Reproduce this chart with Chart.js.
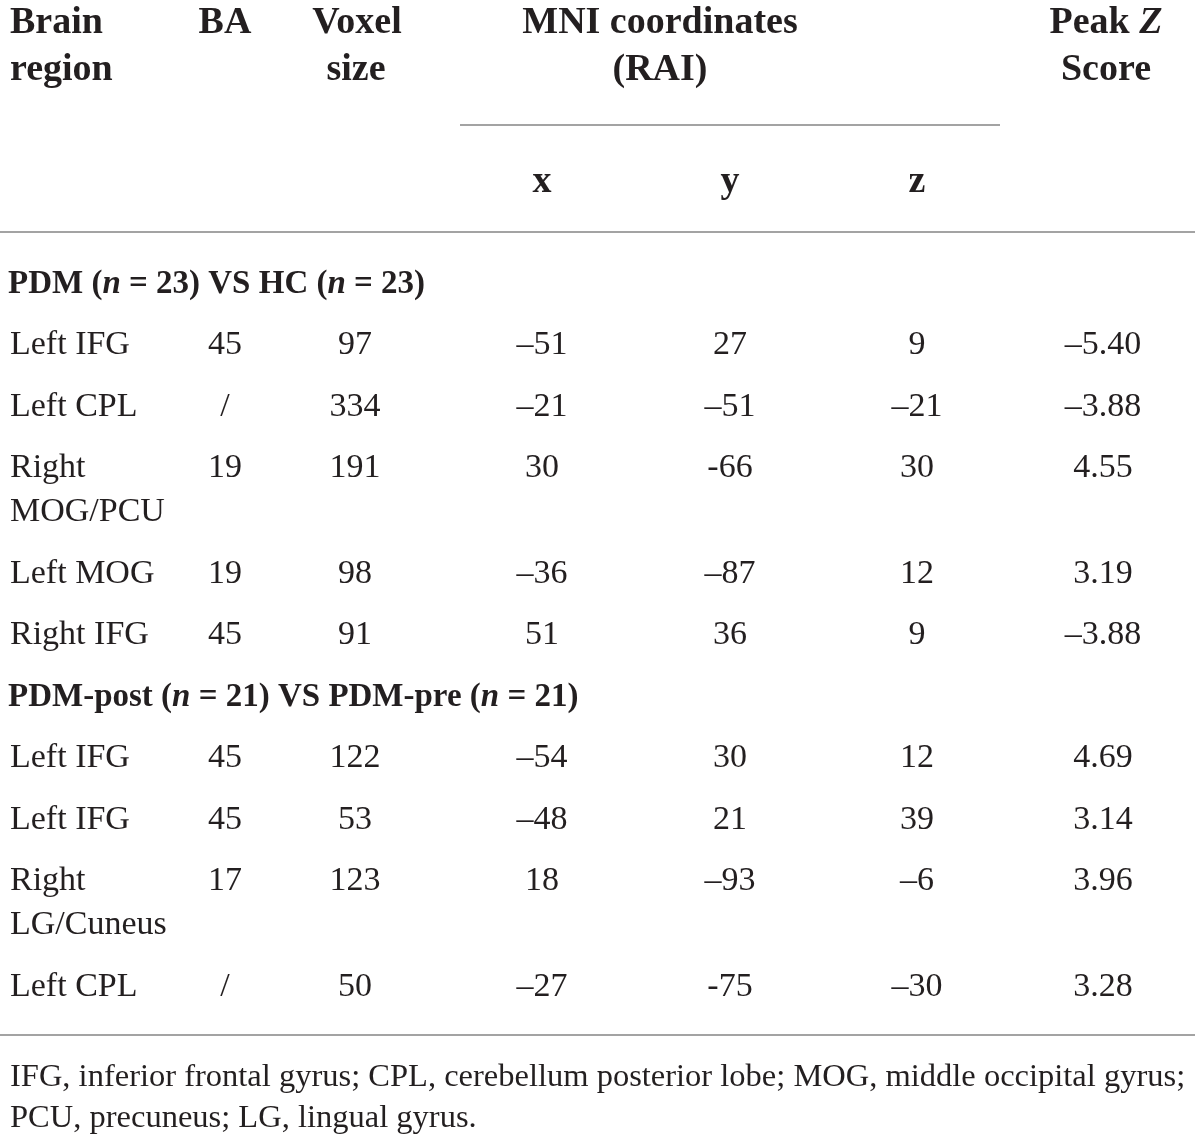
<!DOCTYPE html>
<html>
<head>
<meta charset="utf-8">
<script src="https://cdn.jsdelivr.net/npm/chart.js@4.4.1/dist/chart.umd.min.js"></script>
<style>
  html, body { margin: 0; padding: 0; background: #fff; }
  #wrap { width: 1200px; height: 1142px; }
</style>
</head>
<body>
<div id="wrap"><canvas id="brain-table"></canvas></div>
<script>
// Table content
let groups = ["PDM (n = 23) VS HC (n = 23)", "PDM-post (n = 21) VS PDM-pre (n = 21)"];
let rowGroup = [0, 0, 0, 0, 0, 1, 1, 1, 1];
let regions = [["Left IFG"], ["Left CPL"], ["Right", "MOG/PCU"], ["Left MOG"], ["Right IFG"],
               ["Left IFG"], ["Left IFG"], ["Right", "LG/Cuneus"], ["Left CPL"]];
let ba = ["45", "/", "19", "19", "45", "45", "45", "17", "/"];
let voxels = ["97", "334", "191", "98", "91", "122", "53", "123", "50"];
let mniX = ["–51", "–21", "30", "–36", "51", "–54", "–48", "18", "–27"];
let mniY = ["27", "–51", "-66", "–87", "36", "30", "21", "–93", "-75"];
let mniZ = ["9", "–21", "30", "12", "9", "12", "39", "–6", "–30"];
let peakZ = ["–5.40", "–3.88", "4.55", "3.19", "–3.88", "4.69", "3.14", "3.96", "3.28"];
let footnote = ["IFG, inferior frontal gyrus; CPL, cerebellum posterior lobe; MOG, middle occipital gyrus;",
                "PCU, precuneus; LG, lingual gyrus."];

// Layout
let ink = "#231f20";
let ruleColor = "#a3a3a3";
let bodyFont = "34px 'Liberation Serif', serif";
let headFont = "bold 38px 'Liberation Serif', serif";
let headItalic = "italic bold 38px 'Liberation Serif', serif";
let boldFont = "bold 33px 'Liberation Serif', serif";
let boldItalic = "italic bold 33px 'Liberation Serif', serif";
let colX = [10, 225, 355, 542, 730, 917, 1103];
let pitch = 61.5, wrapGap = 44;

// row positions, built from the line count of each row
let groupY = [];
let rowY = [];
let y = 284;
regions.forEach((r, i) => {
  if (i === 0 || rowGroup[i] !== rowGroup[i - 1]) {
    if (i > 0) y += pitch;
    groupY.push(y);
  }
  y += pitch;
  rowY.push(y);
  y += (r.length - 1) * wrapGap;
});

let columns = [regions, ba, voxels, mniX, mniY, mniZ, peakZ];
let datasets = columns.map((col, c) => ({
  label: "col" + c,
  data: col.map((v, i) => ({ x: colX[c], y: rowY[i], text: v })),
  pointRadius: 0
}));

// splits a group title so a lone "n" (as in "n = 23") is italic
function richParts(text) {
  return text.split(/(?<=\()(n)(?= =)/).map(p => ({ t: p, f: p === "n" ? boldItalic : boldFont }));
}
function drawParts(ctx, parts, x, y, align) {
  let w = 0;
  parts.forEach(p => { ctx.font = p.f; w += ctx.measureText(p.t).width; });
  let cx = align === "center" ? x - w / 2 : x;
  ctx.textAlign = "left";
  parts.forEach(p => { ctx.font = p.f; ctx.fillText(p.t, cx, y); cx += ctx.measureText(p.t).width; });
}

let tablePlugin = {
  id: "tablePlugin",
  afterDatasetsDraw(chart) {
    let ctx = chart.ctx;
    let xs = chart.scales.x, ys = chart.scales.y;
    let px = v => xs.getPixelForValue(v);
    let py = v => ys.getPixelForValue(v);
    ctx.save();
    ctx.fillStyle = ink;
    ctx.textBaseline = "middle";

    // header
    ctx.font = headFont;
    ctx.textAlign = "left";
    ctx.fillText("Brain", px(10), py(23));
    ctx.fillText("region", px(10), py(70));
    ctx.textAlign = "center";
    ctx.fillText("BA", px(225), py(23));
    ctx.fillText("Voxel", px(357), py(23));
    ctx.fillText("size", px(356), py(70));
    ctx.fillText("MNI coordinates", px(660), py(23));
    ctx.fillText("(RAI)", px(660), py(70));
    drawParts(ctx, [{ t: "Peak ", f: headFont }, { t: "Z", f: headItalic }], px(1106), py(23), "center");
    ctx.font = headFont;
    ctx.textAlign = "center";
    ctx.fillText("Score", px(1106), py(70));
    ctx.fillText("x", px(colX[3]), py(182));
    ctx.fillText("y", px(colX[4]), py(182));
    ctx.fillText("z", px(colX[5]), py(182));

    // rules
    ctx.strokeStyle = ruleColor;
    ctx.lineWidth = 2;
    [[460, 1000, 125], [0, 1195, 232], [0, 1195, 1035]].forEach(([a, b, yy]) => {
      ctx.beginPath();
      ctx.moveTo(px(a), py(yy));
      ctx.lineTo(px(b), py(yy));
      ctx.stroke();
    });

    // group headers
    groups.forEach((g, i) => drawParts(ctx, richParts(g), px(8), py(groupY[i]), "left"));

    // cells
    ctx.font = bodyFont;
    chart.data.datasets.forEach((ds, c) => {
      let meta = chart.getDatasetMeta(c);
      ctx.textAlign = c === 0 ? "left" : "center";
      meta.data.forEach((el, i) => {
        let v = ds.data[i].text;
        let lines = Array.isArray(v) ? v : [v];
        lines.forEach((ln, k) => ctx.fillText(ln, el.x, el.y + k * wrapGap));
      });
    });

    // footnote, sized to span the table width
    let size = 30;
    ctx.font = size + "px 'Liberation Serif', serif";
    size = size * 1175 / ctx.measureText(footnote[0]).width;
    ctx.font = size.toFixed(2) + "px 'Liberation Serif', serif";
    ctx.textAlign = "left";
    ctx.fillText(footnote[0], px(10), py(1077));
    ctx.fillText(footnote[1], px(10), py(1118));
    ctx.restore();
  }
};

new Chart(document.getElementById("brain-table").getContext("2d"), {
  type: "scatter",
  data: { datasets: datasets },
  options: {
    responsive: true,
    maintainAspectRatio: false,
    animation: false,
    layout: { padding: 0 },
    plugins: { legend: { display: false }, tooltip: { enabled: false } },
    scales: {
      x: { type: "linear", min: 0, max: 1200, display: false },
      y: { type: "linear", min: 0, max: 1142, reverse: true, display: false }
    }
  },
  plugins: [tablePlugin]
});
</script>
</body>
</html>
